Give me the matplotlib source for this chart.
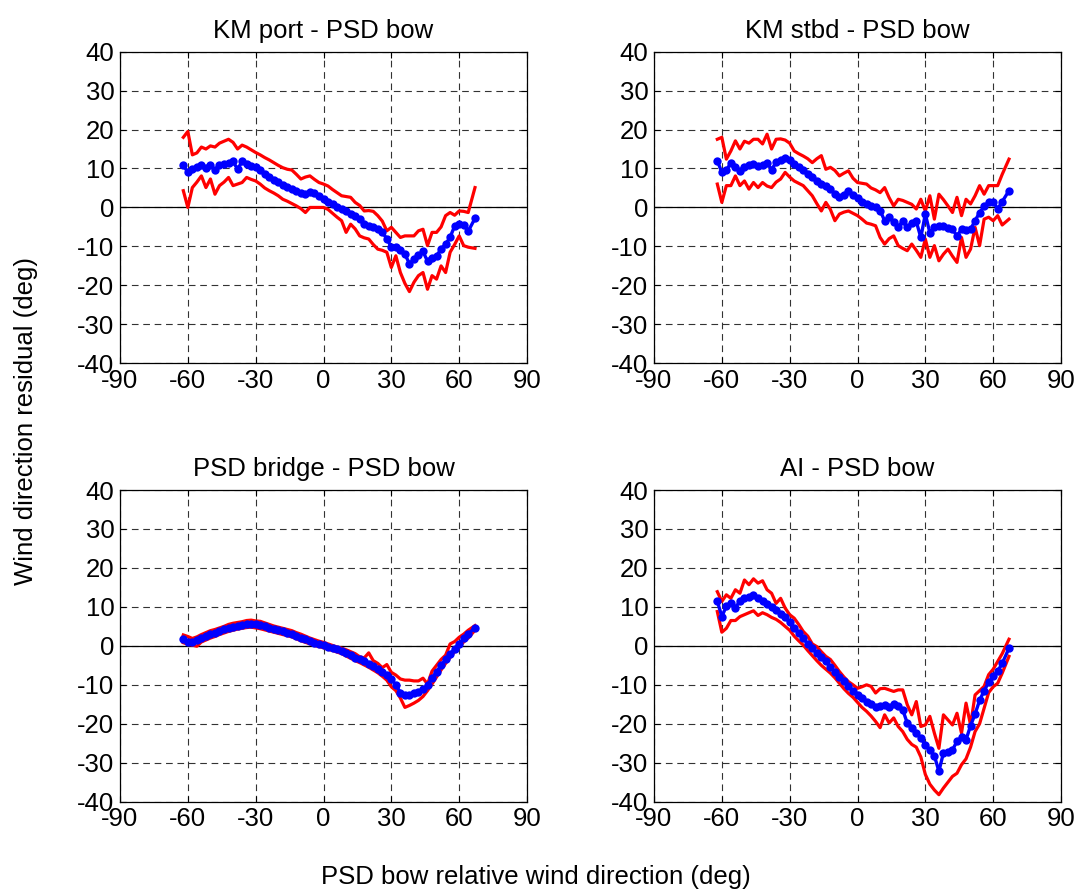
import matplotlib
matplotlib.use("Agg")
import matplotlib.pyplot as plt

plt.rcParams['font.family'] = ['Liberation Sans', 'DejaVu Sans']
plt.rcParams['lines.scale_dashes'] = False

# Shared x positions (PSD bow relative wind direction, deg)
x_deg = [-62, -60, -58, -56, -54, -52, -50, -48, -46, -44, -42, -40, -38, -36, -34, -32,
         -30, -28, -26, -24, -22, -20, -18, -16, -14, -12, -10, -8, -6, -4, -2, 0,
         2, 4, 6, 8, 10, 12, 14, 16, 18, 20, 22, 24, 26, 28, 30, 32,
         34, 36, 38, 40, 42, 44, 46, 48, 50, 52, 54, 56, 58, 60, 62, 64, 67]

titles = ["KM port - PSD bow", "KM stbd - PSD bow", "PSD bridge - PSD bow", "AI - PSD bow"]

# ---- KM port - PSD bow ----
kmport_mean = [10.9, 9.0, 9.8, 10.5, 10.8, 10.2, 10.8, 9.6, 11.0, 11.2, 11.5, 11.8, 9.8, 11.8, 11.2, 10.6,
               10.3, 9.5, 8.6, 7.8, 7.1, 6.6, 5.8, 5.2, 4.7, 4.2, 3.7, 3.4, 3.9, 3.8, 2.9, 2.2,
               1.5, 0.9, 0.2, -0.4, -0.8, -1.6, -2.3, -2.9, -4.2, -4.7, -4.9, -5.6, -6.4, -8.0, -10.2, -10.2,
               -11.0, -12.0, -14.4, -13.3, -12.3, -11.3, -13.8, -13.0, -12.5, -10.6, -9.5, -7.6, -4.8, -4.3, -4.5, -6.1, -2.8]
kmport_upper = [18.0, 19.5, 13.5, 14.0, 15.5, 15.0, 15.8, 15.5, 16.5, 17.0, 17.5, 16.7, 15.0, 16.0, 15.5, 14.8,
                14.1, 13.5, 12.8, 12.2, 11.5, 10.8, 10.2, 9.8, 9.6, 8.5, 7.3, 7.8, 8.1, 7.2, 6.4, 6.0,
                5.5, 4.6, 3.8, 3.0, 2.8, 2.6, 1.3, 0.5, -0.9, -0.8, -1.0, -2.1, -3.5, -6.0, -5.1, -6.4,
                -7.7, -7.3, -7.3, -7.3, -6.0, -5.6, -9.8, -6.4, -6.4, -5.0, -2.1, -1.3, -2.0, -0.9, -1.0, -1.3, 5.1]
kmport_lower = [4.3, 0.0, 5.1, 6.5, 8.1, 5.1, 7.3, 3.4, 5.6, 6.5, 7.7, 5.6, 6.0, 6.4, 7.7, 7.2,
                6.8, 6.0, 5.0, 4.3, 3.7, 3.0, 2.1, 1.6, 1.0, 0.4, -0.3, -1.3, 0.0, 0.0, 0.0, 0.0,
                -0.5, -1.5, -2.5, -3.4, -6.4, -4.3, -5.5, -7.3, -7.8, -8.1, -9.5, -10.7, -11.0, -11.5, -15.4, -12.4,
                -16.7, -19.5, -21.6, -19.2, -17.5, -16.7, -21.0, -17.5, -18.4, -15.0, -16.7, -11.5, -9.5, -7.3, -9.8, -10.2, -10.5]

# ---- KM stbd - PSD bow ----
kmstbd_mean = [12.0, 9.0, 9.5, 11.5, 10.5, 9.4, 10.5, 10.8, 11.1, 10.7, 10.9, 11.5, 9.7, 11.6, 12.2, 12.8,
               12.3, 11.1, 10.5, 9.6, 8.5, 7.7, 6.8, 6.0, 5.5, 4.8, 3.5, 2.6, 3.2, 4.3, 3.2, 2.3,
               1.5, 0.8, 0.4, 0.0, -0.8, -3.4, -2.5, -3.8, -5.1, -3.4, -5.1, -4.0, -3.6, -7.7, -1.7, -6.5,
               -5.1, -4.7, -4.8, -5.2, -5.6, -7.3, -5.6, -5.8, -5.6, -3.4, -1.3, 0.3, 1.3, 1.5, -0.4, 1.5, 4.3]
kmstbd_upper = [17.5, 18.0, 12.4, 14.5, 17.1, 15.0, 17.0, 16.5, 17.5, 17.5, 16.3, 18.8, 15.0, 17.5, 17.6, 17.3,
                16.5, 14.5, 13.8, 13.2, 12.5, 11.5, 12.5, 13.3, 9.8, 10.3, 9.5, 8.1, 8.8, 9.4, 7.5, 6.4,
                6.2, 6.0, 5.0, 4.5, 3.8, 5.1, 2.5, 0.4, 2.1, 1.8, 1.3, 0.8, -0.4, 2.1, -0.9, 3.0,
                -3.0, 3.4, 2.0, 0.4, -1.3, 2.6, -2.1, 2.1, 0.9, 3.0, 5.6, 3.4, 5.6, 5.6, 5.6, 8.5, 12.4]
kmstbd_lower = [6.0, 1.3, 5.6, 5.6, 8.1, 5.6, 6.8, 4.7, 6.4, 5.1, 6.4, 5.5, 5.1, 6.5, 7.3, 9.0,
                7.8, 6.8, 6.2, 5.6, 4.3, 3.0, 1.0, -0.9, 1.3, -0.5, -3.4, -1.7, -1.2, -0.9, -1.5, -2.1,
                -3.0, -4.0, -4.3, -4.7, -7.7, -9.4, -8.0, -7.3, -9.8, -10.5, -11.1, -9.4, -11.0, -12.8, -8.1, -12.8,
                -9.8, -13.7, -12.0, -10.7, -12.5, -14.1, -7.7, -12.8, -10.7, -5.1, -9.8, -3.0, -2.5, -3.4, -2.1, -4.5, -3.0]

# ---- PSD bridge - PSD bow ----
bridge_mean = [1.7, 1.1, 1.0, 1.4, 1.9, 2.5, 3.1, 3.4, 3.8, 4.2, 4.6, 4.9, 5.1, 5.3, 5.6, 5.7,
               5.5, 5.3, 5.0, 4.7, 4.3, 4.0, 3.7, 3.4, 3.1, 2.6, 2.1, 1.7, 1.2, 0.8, 0.5, 0.2,
               -0.2, -0.5, -0.9, -1.3, -1.9, -2.4, -3.0, -3.5, -4.0, -4.6, -5.2, -5.9, -6.6, -7.4, -8.6, -10.0,
               -12.0, -12.6, -12.5, -12.2, -11.9, -11.2, -10.0, -8.3, -6.6, -5.0, -3.5, -2.2, -0.7, 0.5, 1.9, 3.0, 4.7]
bridge_upper = [2.8, 2.4, 1.9, 2.3, 2.9, 3.4, 3.9, 4.2, 4.6, 5.0, 5.5, 5.8, 6.0, 6.2, 6.5, 6.6,
                6.4, 6.3, 5.9, 5.5, 5.1, 4.8, 4.5, 4.2, 3.9, 3.4, 3.0, 2.5, 2.0, 1.6, 1.2, 0.9,
                0.5, 0.1, -0.3, -0.6, -1.0, -1.5, -2.0, -2.8, -3.1, -1.8, -3.8, -4.5, -5.6, -4.8, -6.8, -7.5,
                -8.5, -8.8, -8.8, -9.0, -9.0, -8.3, -9.8, -6.5, -5.0, -3.5, -2.4, 0.5, 1.1, 2.2, 3.0, 4.0, 5.2]
bridge_lower = [0.8, 0.4, 0.2, -0.1, 1.0, 1.5, 2.0, 2.4, 2.9, 3.3, 3.7, 4.0, 4.3, 4.5, 4.7, 4.8,
                4.6, 4.4, 4.1, 3.8, 3.5, 3.2, 2.9, 2.6, 2.3, 1.8, 1.3, 0.9, 0.5, 0.1, -0.2, -0.5,
                -0.9, -1.2, -1.6, -2.0, -2.6, -3.2, -3.8, -4.3, -4.9, -5.5, -6.2, -6.9, -7.8, -8.8, -10.5, -11.5,
                -13.4, -15.8, -15.3, -14.7, -14.0, -13.0, -11.5, -9.8, -8.0, -6.2, -4.5, -3.0, -1.5, -0.3, 1.0, 2.0, 4.0]

# ---- AI - PSD bow ----
ai_mean = [11.5, 7.5, 10.2, 11.0, 9.8, 11.5, 12.3, 12.5, 13.1, 12.3, 11.4, 10.7, 10.0, 9.2, 8.3, 7.3,
           6.0, 4.6, 3.4, 1.9, 0.5, -0.6, -1.8, -2.9, -4.0, -5.4, -6.7, -8.0, -9.1, -10.3, -11.5, -12.5,
           -13.5, -14.4, -15.0, -15.6, -15.5, -15.1, -15.6, -15.0, -15.5, -16.4, -19.8, -21.2, -22.4, -23.6, -25.5, -26.7,
           -28.2, -32.2, -27.5, -27.2, -26.7, -24.5, -23.5, -24.1, -20.5, -17.5, -14.0, -11.5, -9.4, -7.8, -6.5, -4.5, -0.6]
ai_upper = [13.9, 11.4, 13.1, 12.2, 14.4, 13.5, 16.9, 15.7, 17.2, 16.1, 16.7, 14.4, 13.5, 10.9, 12.2, 9.7,
            8.0, 7.1, 5.5, 3.7, 2.5, 0.5, -0.2, -1.5, -2.7, -3.5, -5.0, -6.6, -8.0, -9.2, -10.0, -10.9,
            -10.5, -10.0, -10.4, -12.1, -11.0, -10.9, -11.3, -11.7, -11.3, -11.3, -15.1, -17.7, -14.3, -20.7, -20.3, -18.1,
            -22.4, -26.3, -17.7, -19.0, -20.3, -17.3, -22.4, -14.7, -20.3, -12.6, -11.5, -10.4, -7.4, -6.0, -4.0, -2.0, 1.7]
ai_lower = [8.8, 3.5, 4.5, 6.5, 6.5, 7.5, 8.0, 8.5, 9.0, 7.8, 8.5, 8.0, 7.3, 6.8, 6.0, 5.0,
            4.0, 2.5, 1.3, 0.2, -1.2, -2.5, -3.8, -5.0, -6.0, -7.0, -8.2, -9.6, -11.0, -12.2, -13.2, -14.5,
            -15.8, -16.8, -18.0, -19.4, -21.0, -17.7, -19.8, -18.5, -20.7, -22.0, -24.0, -25.3, -26.0, -28.5, -33.0, -35.5,
            -37.0, -38.2, -36.5, -35.0, -33.5, -32.7, -30.5, -29.0, -26.0, -22.0, -20.0, -16.0, -12.0, -10.5, -9.6, -7.0, -2.7]

x_ticks = [-90, -60, -30, 0, 30, 60, 90]
y_ticks = [-40, -30, -20, -10, 0, 10, 20, 30, 40]

panels = [
    (kmport_mean, kmport_upper, kmport_lower),
    (kmstbd_mean, kmstbd_upper, kmstbd_lower),
    (bridge_mean, bridge_upper, bridge_lower),
    (ai_mean, ai_upper, ai_lower),
]

W, H = 1081, 896
fig = plt.figure(figsize=(W / 100, H / 100), dpi=100)

positions = [
    [120 / W, (H - 363.3) / H, 407 / W, 311.7 / H],
    [654 / W, (H - 363.3) / H, 407 / W, 311.7 / H],
    [120 / W, (H - 801.7) / H, 407 / W, 311.7 / H],
    [654 / W, (H - 801.7) / H, 407 / W, 311.7 / H],
]

FS = 18.5
for pos, title, (m, up, lo) in zip(positions, titles, panels):
    ax = fig.add_axes(pos)
    ax.set_xlim(-90, 90)
    ax.set_ylim(-40, 40)
    ax.set_xticks(x_ticks)
    ax.set_yticks(y_ticks)
    ax.set_xticklabels([str(t) for t in x_ticks], fontsize=FS)
    ax.set_yticklabels([str(t) for t in y_ticks], fontsize=FS)
    ax.grid(True, color='#333333', linestyle=(0, (4.8, 3.4)), linewidth=0.8)
    ax.set_axisbelow(True)
    ax.axhline(0, color='black', linewidth=0.9, zorder=1.5)
    ax.plot(x_deg, up, color='red', linewidth=2.3, zorder=3)
    ax.plot(x_deg, lo, color='red', linewidth=2.3, zorder=3)
    ax.plot(x_deg, m, color='blue', linewidth=2.4, marker='o', markersize=6,
            markeredgewidth=0, zorder=4)
    ax.tick_params(direction='in', top=True, right=True, length=4, width=0.8,
                   pad=4, colors='black')
    for s in ax.spines.values():
        s.set_linewidth(0.9)
    ax.set_title(title, fontsize=FS, pad=10)

fig.text(26 / W, 1 - 421 / H, "Wind direction residual (deg)", rotation=90,
         ha='center', va='center', fontsize=FS)
fig.text(536 / W, 1 - 877 / H, "PSD bow relative wind direction (deg)",
         ha='center', va='center', fontsize=FS)

fig.savefig("out.png", dpi=100)
